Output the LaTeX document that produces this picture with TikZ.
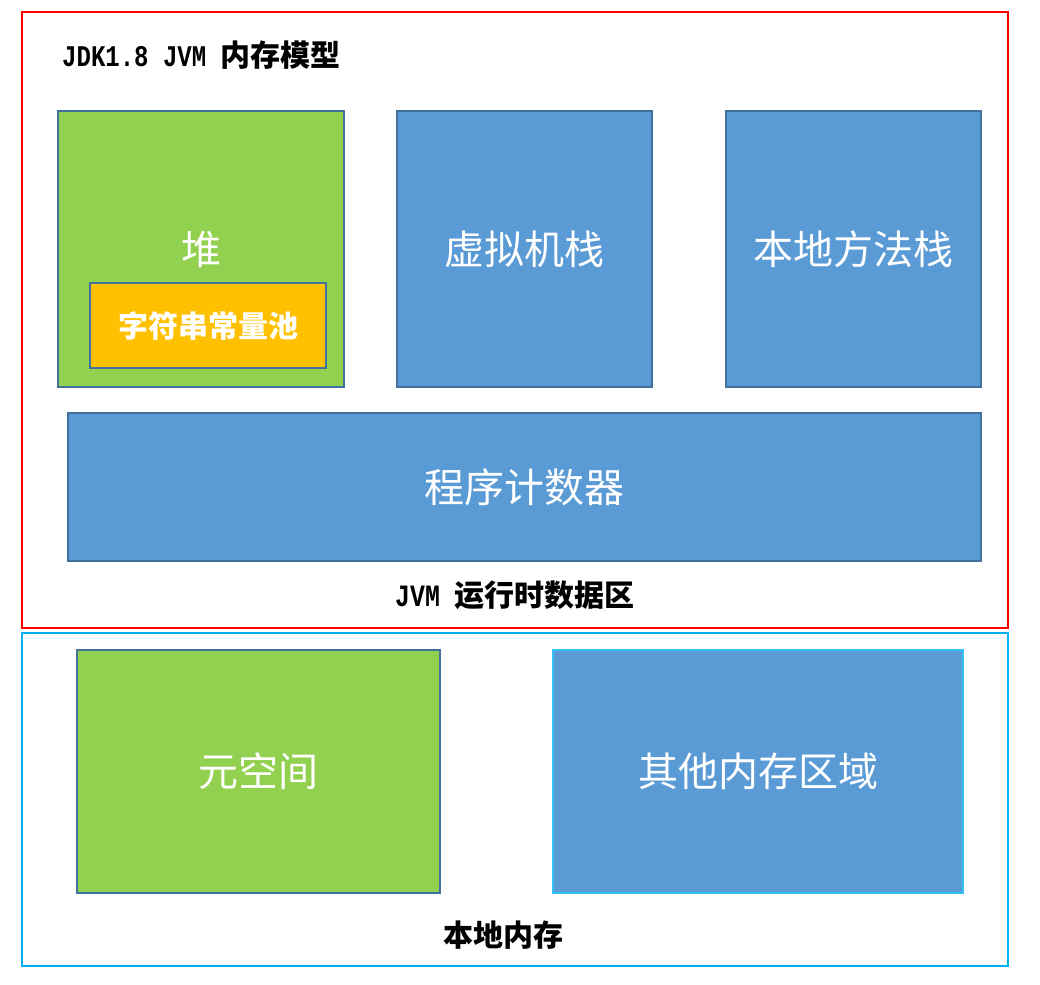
\documentclass[tikz,border=0pt]{standalone}
\usepackage{fontspec}
\newfontfamily\cjk{Noto Sans CJK SC}
\newfontfamily\lat[FakeStretch=0.8]{Liberation Mono}
\definecolor{heapgreen}{HTML}{92D050}
\definecolor{areablue}{HTML}{5B9BD5}
\definecolor{poolorange}{HTML}{FFC000}
\definecolor{boxedge}{HTML}{41719C}
\definecolor{redframe}{HTML}{FF0000}
\definecolor{cyanframe}{HTML}{00B0F0}
\begin{document}
\begin{tikzpicture}[x=1pt,y=-1pt,
  area/.style={draw=boxedge, line width=1.3pt, inner sep=0pt, text=white,
    font=\cjk\fontsize{40}{40}\selectfont},
  greenarea/.style={area, fill=heapgreen},
  bluearea/.style={area, fill=areablue},
  poolbox/.style={area, fill=poolorange, font=\cjk\bfseries\fontsize{30}{30}\selectfont},
  frame/.style={line width=1.6pt, inner sep=0pt},
  caption/.style={inner sep=0pt, text=black, font=\cjk\bfseries\fontsize{30}{30}\selectfont}
]
\useasboundingbox (0,0) rectangle (1040,984);
% outer frames
\node[frame, draw=redframe, minimum width=986pt, minimum height=616pt] (runtime) at (515,320) {};
\node[frame, draw=cyanframe, minimum width=986pt, minimum height=333pt] (native) at (515,799.5) {};
% title
\node[caption, anchor=west] (title) at (62,55) {{\lat\bfseries\fontsize{30}{30}\selectfont JDK1.8 JVM }内存模型};
% runtime areas
\node[greenarea, minimum width=286pt, minimum height=276pt] (heap) at (201,249) {堆};
\node[poolbox, minimum width=236pt, minimum height=85pt] (pool) at (208,325.5) {字符串常量池};
\node[bluearea, minimum width=255pt, minimum height=276pt] (vmstack) at (524.5,249) {虚拟机栈};
\node[bluearea, minimum width=255pt, minimum height=276pt] (nstack) at (853.5,249) {本地方法栈};
\node[bluearea, minimum width=913pt, minimum height=148pt] (pc) at (524.5,487) {程序计数器};
\node[caption] (rtlabel) at (515,595) {{\lat\bfseries\fontsize{31}{31}\selectfont JVM }运行时数据区};
% native memory
\node[greenarea, minimum width=363pt, minimum height=243pt] (meta) at (258.5,771.5) {元空间};
\node[bluearea, draw=cyanframe!80!white, minimum width=410pt, minimum height=243pt] (other) at (758,771.5) {其他内存区域};
\node[caption] (nlabel) at (503,935) {本地内存};
\end{tikzpicture}
\end{document}
